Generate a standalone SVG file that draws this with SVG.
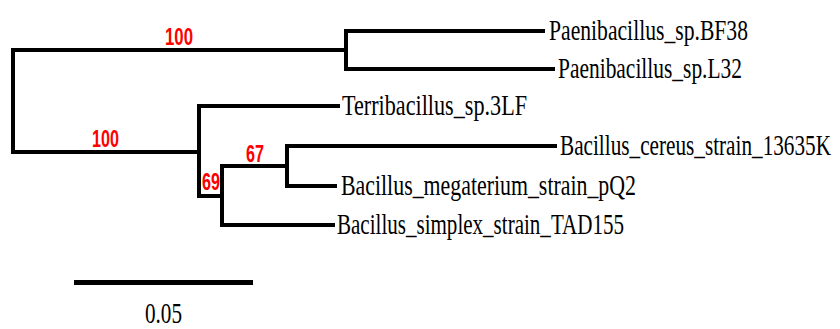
<svg xmlns="http://www.w3.org/2000/svg" width="840" height="329" viewBox="0 0 840 329">
<style>
.br{fill:none;stroke:#000;stroke-width:4;stroke-linecap:square;stroke-linejoin:miter}
.tx{font-family:"Liberation Serif","Times New Roman",serif;font-size:21px;fill:#000}
.bs{font-family:"Liberation Sans",Arial,sans-serif;font-size:23px;font-weight:bold;fill:#ff0000}
</style>
<rect width="840" height="329" fill="#fff"/>
<g id="connectors">
<path class="br" d="M346,50 H13 V152 H199"/>
<path class="br" d="M543,31 H346 V69 H553"/>
<path class="br" d="M338,106 H199 V196 H222"/>
<path class="br" d="M287,166 H222 V225 H333"/>
<path class="br" d="M555,146 H287 V186 H335"/>
<path d="M74,282.5 H253" stroke="#000" stroke-width="5" fill="none"/>
</g>
<g id="n-bf38"><text class="tx" transform="translate(549,40) scale(1,1.38)" textLength="199" lengthAdjust="spacingAndGlyphs">Paenibacillus_sp.BF38</text></g>
<g id="n-l32"><text class="tx" transform="translate(558,78) scale(1,1.38)" textLength="184" lengthAdjust="spacingAndGlyphs">Paenibacillus_sp.L32</text></g>
<g id="n-terri"><text class="tx" transform="translate(342,115) scale(1,1.38)" textLength="185" lengthAdjust="spacingAndGlyphs">Terribacillus_sp.3LF</text></g>
<g id="n-cereus"><text class="tx" transform="translate(560,155) scale(1,1.38)" textLength="271" lengthAdjust="spacingAndGlyphs">Bacillus_cereus_strain_13635K</text></g>
<g id="n-mega"><text class="tx" transform="translate(341,195) scale(1,1.38)" textLength="295" lengthAdjust="spacingAndGlyphs">Bacillus_megaterium_strain_pQ2</text></g>
<g id="n-simplex"><text class="tx" transform="translate(337,234) scale(1,1.38)" textLength="287" lengthAdjust="spacingAndGlyphs">Bacillus_simplex_strain_TAD155</text></g>
<g id="bootstrap">
<text class="bs" x="165" y="45" textLength="28" lengthAdjust="spacingAndGlyphs">100</text>
<text class="bs" x="92" y="147" textLength="27" lengthAdjust="spacingAndGlyphs">100</text>
<text class="bs" x="246" y="162" textLength="18" lengthAdjust="spacingAndGlyphs">67</text>
<text class="bs" x="202" y="190" textLength="18" lengthAdjust="spacingAndGlyphs">69</text>
</g>
<g id="scale"><text class="tx" transform="translate(145,322.5) scale(1,1.38)" textLength="37" lengthAdjust="spacingAndGlyphs">0.05</text></g>
</svg>
